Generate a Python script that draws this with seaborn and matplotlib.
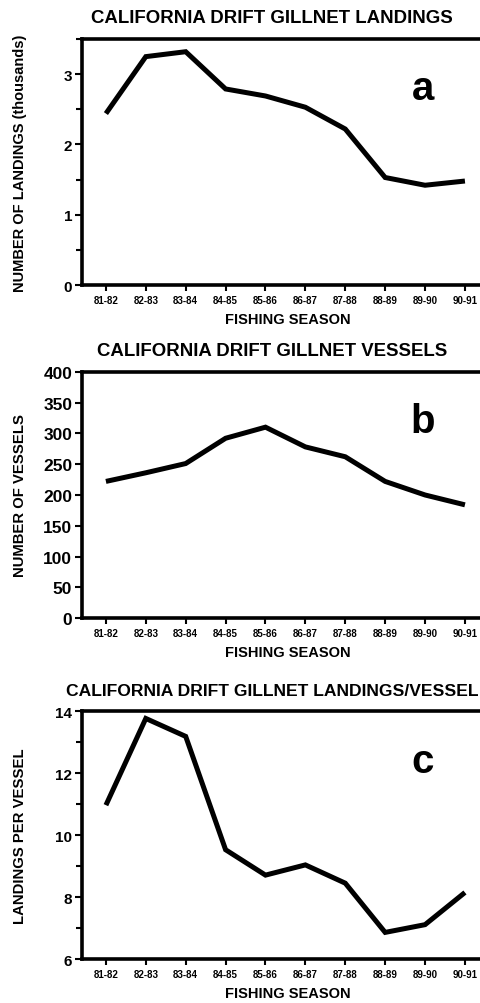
import matplotlib
matplotlib.use("Agg")
import matplotlib.pyplot as plt
import seaborn as sns
import pandas as pd
from matplotlib.ticker import MultipleLocator

seasons = ["81-82", "82-83", "83-84", "84-85", "85-86",
           "86-87", "87-88", "88-89", "89-90", "90-91"]
landings = [2.44, 3.25, 3.32, 2.79, 2.69, 2.53, 2.22, 1.53, 1.42, 1.48]
vessels = [222, 236, 251, 292, 310, 278, 262, 222, 200, 184]
per_vessel = [10.97, 13.77, 13.19, 9.53, 8.71, 9.04, 8.45, 6.86, 7.11, 8.15]

sns.set_theme(style="ticks")
plt.rcParams['font.family'] = ['Liberation Sans', 'DejaVu Sans']
plt.rcParams['font.weight'] = 'bold'
plt.rcParams['text.color'] = 'black'
plt.rcParams['axes.labelcolor'] = 'black'
plt.rcParams['xtick.color'] = 'black'
plt.rcParams['ytick.color'] = 'black'

fig = plt.figure(figsize=(4.8, 10.04), dpi=100)

panels = [
    dict(y=landings, pos=[0.1708, 0.7151, 0.856, 0.2450], ylim=(0, 3.5), major=1, minor=0.5,
         title="CALIFORNIA DRIFT GILLNET LANDINGS", ylabel="NUMBER OF LANDINGS (thousands)",
         letter="a", ysize=11, ylab_size=10.5, tsize=13.4),
    dict(y=vessels, pos=[0.1708, 0.3832, 0.856, 0.2456], ylim=(0, 400), major=50, minor=None,
         title="CALIFORNIA DRIFT GILLNET VESSELS", ylabel="NUMBER OF VESSELS",
         letter="b", ysize=12.5, ylab_size=10.7, tsize=13.4),
    dict(y=per_vessel, pos=[0.1708, 0.0438, 0.856, 0.2467], ylim=(6, 14), major=2, minor=1,
         title="CALIFORNIA DRIFT GILLNET LANDINGS/VESSEL", ylabel="LANDINGS PER VESSEL",
         letter="c", ysize=11, ylab_size=10.7, tsize=12.6),
]

for p in panels:
    ax = fig.add_axes(p["pos"])
    df = pd.DataFrame({"season": seasons, "value": p["y"]})
    sns.lineplot(data=df, x="season", y="value", ax=ax, color="black", lw=3.6,
                 solid_joinstyle="miter", solid_capstyle="butt")
    ax.set_xlim(-0.6, 9.7)
    ax.set_ylim(*p["ylim"])
    ax.yaxis.set_major_locator(MultipleLocator(p["major"]))
    if p["minor"]:
        ax.yaxis.set_minor_locator(MultipleLocator(p["minor"]))
    for s in ["left", "bottom", "top", "right"]:
        ax.spines[s].set_linewidth(2.6)
        ax.spines[s].set_color("black")
    ax.tick_params(axis="x", direction="out", length=4, width=1.5, labelsize=7, pad=3)
    ax.tick_params(axis="y", which="major", direction="out", length=5, width=1.5,
                   labelsize=p["ysize"], pad=2)
    ax.tick_params(axis="y", which="minor", direction="out", length=4, width=1.5)
    for lbl in ax.get_xticklabels() + ax.get_yticklabels():
        lbl.set_fontweight("bold")
    ax.set_xlabel("FISHING SEASON", fontsize=10.5, fontweight="bold", labelpad=5)
    ax.set_ylabel(p["ylabel"], fontsize=p["ylab_size"], fontweight="bold")
    ax.yaxis.set_label_coords(-0.135, 0.5)
    ax.set_title(p["title"], fontsize=p["tsize"], fontweight="bold", x=0.462, pad=12)
    ax.text(0.83, 0.80, p["letter"], transform=ax.transAxes, fontsize=29,
            fontweight="bold", ha="center", va="center")

fig.savefig("out.png", dpi=100)
